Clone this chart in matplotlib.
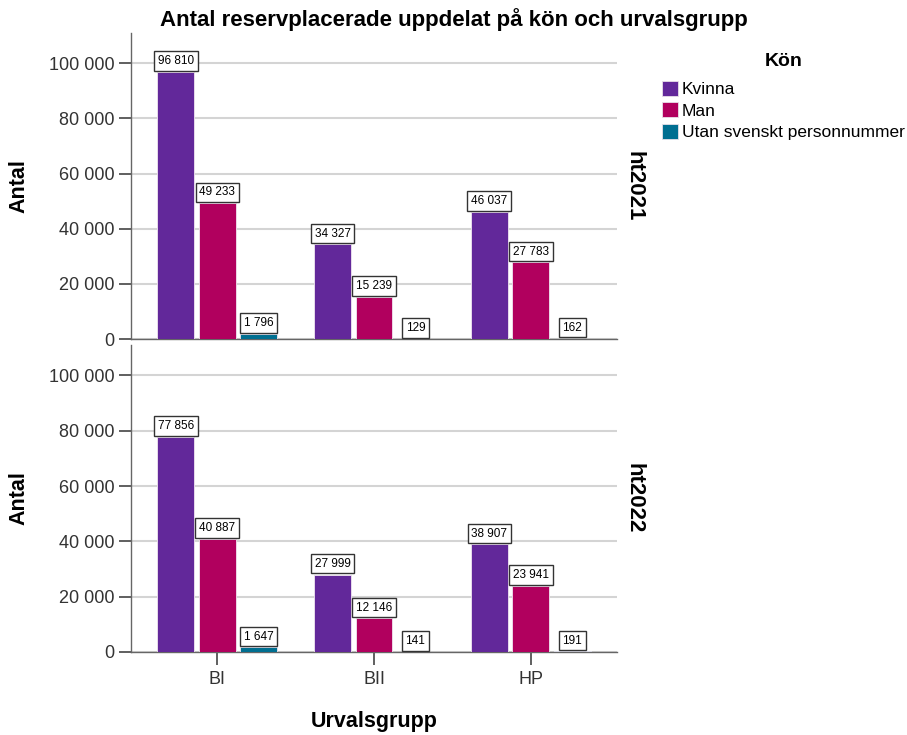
import numpy as np
import matplotlib
matplotlib.use("Agg")
import matplotlib.pyplot as plt
from matplotlib.patches import Patch
from matplotlib.ticker import FuncFormatter, MultipleLocator

plt.rcParams['font.family'] = ['Liberation Sans', 'DejaVu Sans']

groups = ['BI', 'BII', 'HP']
series = ['Kvinna', 'Man', 'Utan svenskt personnummer']
colors = ['#62289a', '#b1005e', '#006f91']
terms = ['ht2021', 'ht2022']

kvinna_2021 = [96810, 34327, 46037]
man_2021 = [49233, 15239, 27783]
utan_2021 = [1796, 129, 162]

kvinna_2022 = [77856, 27999, 38907]
man_2022 = [40887, 12146, 23941]
utan_2022 = [1647, 141, 191]

data = {
    'ht2021': [kvinna_2021, man_2021, utan_2021],
    'ht2022': [kvinna_2022, man_2022, utan_2022],
}


def sv(v, pos=None):
    return f"{int(v):,}".replace(",", " ")


W, H = 907, 735
fig = plt.figure(figsize=(W / 100, H / 100), dpi=100)
left, right = 131 / W, 617 / W
ax_top = fig.add_axes([left, 1 - 339 / H, right - left, 306 / H])
ax_bot = fig.add_axes([left, 1 - 652 / H, right - left, 307 / H])

x = np.arange(len(groups))
width = 0.236
step = 0.264

for ax, term in zip([ax_top, ax_bot], terms):
    for i, (vals, c) in enumerate(zip(data[term], colors)):
        xs = x + (i - 1) * step
        ax.bar(xs, vals, width, color=c, edgecolor='#f0e6f0', linewidth=0.6, zorder=3)
        for xi, v in zip(xs, vals):
            ax.annotate(sv(v), (xi, v), xytext=(0, 3.5), textcoords='offset points',
                        ha='center', va='bottom', fontsize=8.5, zorder=5,
                        bbox=dict(boxstyle='square,pad=0.32', fc='white', ec='#333333', lw=1))
    ax.set_xlim(-0.55, 2.55)
    ax.set_ylim(0, 111000)
    ax.yaxis.set_major_locator(MultipleLocator(20000))
    ax.yaxis.set_major_formatter(FuncFormatter(sv))
    ax.grid(axis='y', color='#d4d4d4', linewidth=1.5, zorder=0)
    ax.set_axisbelow(True)
    for s in ['top', 'right']:
        ax.spines[s].set_visible(False)
    for s in ['left', 'bottom']:
        ax.spines[s].set_color('#666666')
        ax.spines[s].set_linewidth(1.0)
    ax.tick_params(axis='y', labelsize=13, labelcolor='#333333', color='#444444',
                   length=9, width=1.2, pad=3)
    mid = ax.get_position().y0 + ax.get_position().height / 2
    fig.text(19 / W, mid, 'Antal', rotation=90, ha='center', va='center',
             fontsize=15.5, fontweight='bold')
    ax.text(1.035, 0.5, term, transform=ax.transAxes, rotation=270,
            ha='center', va='center', fontsize=16, fontweight='bold')

ax_top.tick_params(axis='x', bottom=False, labelbottom=False)
ax_bot.set_xticks(x)
ax_bot.set_xticklabels(groups)
ax_bot.tick_params(axis='x', labelsize=13, labelcolor='#333333', color='#444444',
                   length=9, width=1.2, pad=5)

fig.text(374 / W, 1 - 727 / H, 'Urvalsgrupp', ha='center', va='baseline',
         fontsize=15.5, fontweight='bold')
fig.text(0.5, 1 - 26 / H, 'Antal reservplacerade uppdelat på kön och urvalsgrupp',
         ha='center', va='baseline', fontsize=16, fontweight='bold')

handles = [Patch(facecolor=c, edgecolor='#e8e0e8', lw=0.6) for c in colors]
leg = fig.legend(handles, series, loc='upper left', bbox_to_anchor=(0.722, 0.938),
                 frameon=False, fontsize=12.5, title='Kön', title_fontsize=14,
                 handlelength=0.95, handleheight=0.95, handletextpad=0.2,
                 labelspacing=0.3, borderaxespad=0)
leg.get_title().set_fontweight('bold')
leg._legend_box.sep = 8

fig.savefig('out.png', dpi=100)
